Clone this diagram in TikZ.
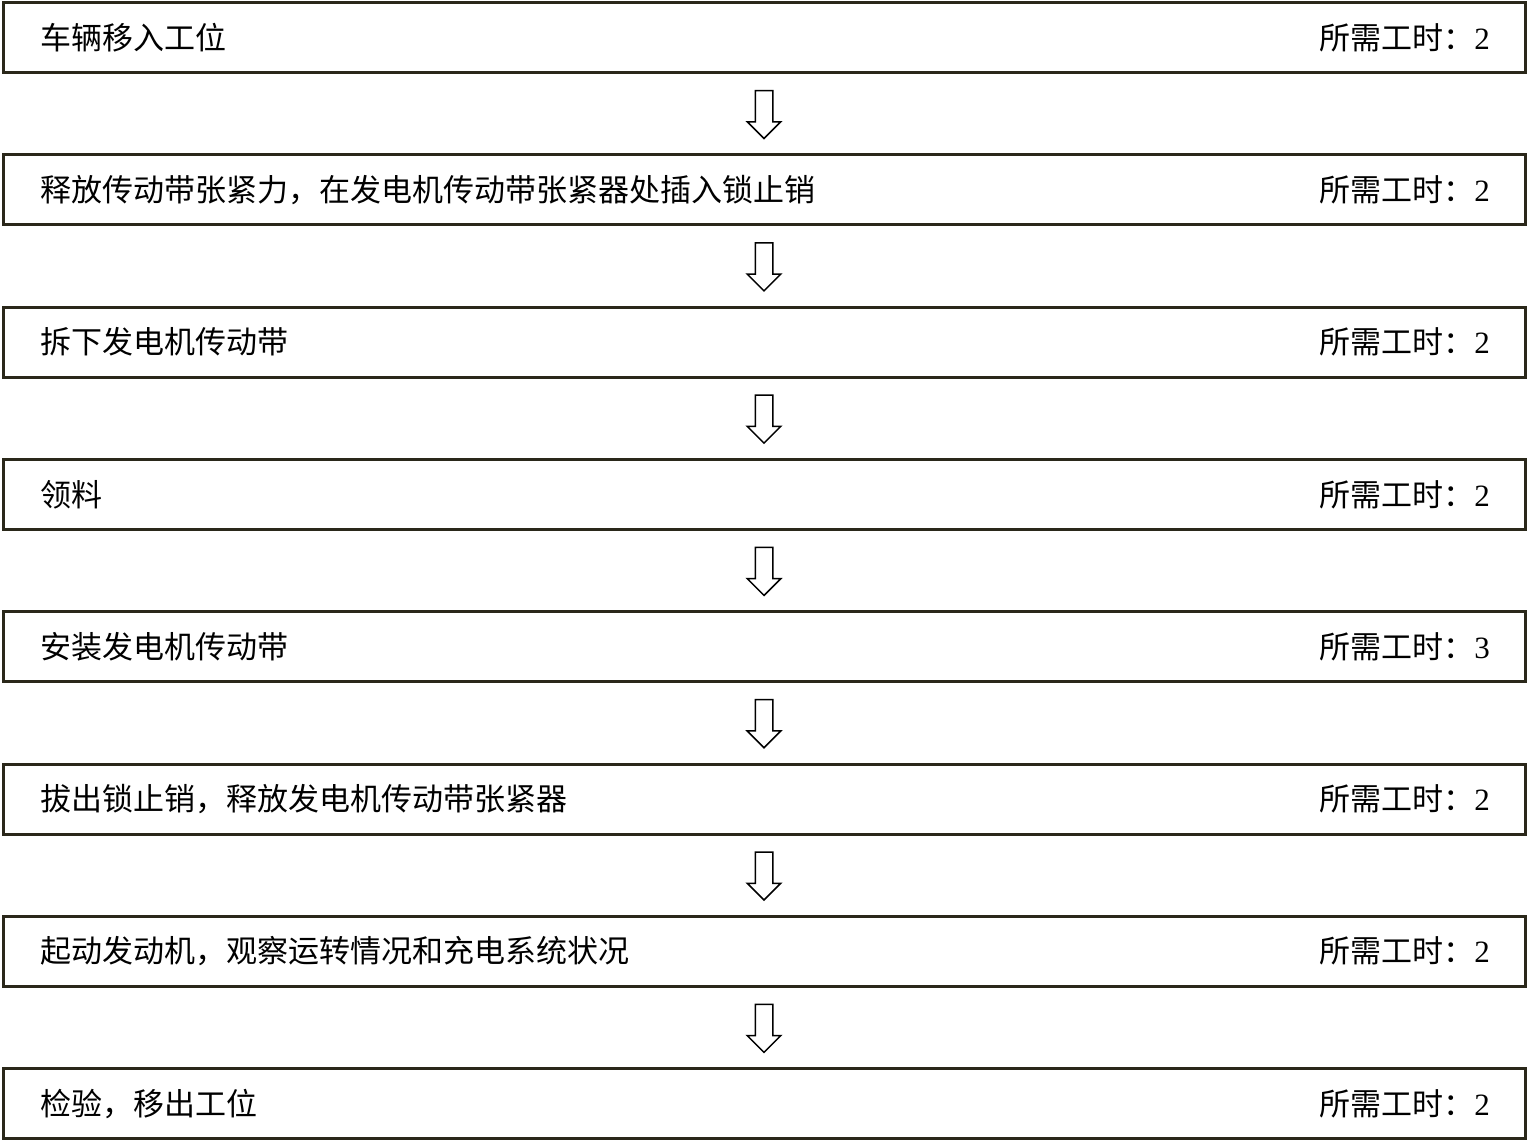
\documentclass[tikz,border=0pt]{standalone}
\usepackage{fontspec}
\setmainfont{Liberation Serif}
\newfontfamily\cjk{Noto Sans CJK SC}
\usepackage{xcolor}
\usetikzlibrary{shapes.arrows, calc}
\definecolor{boxline}{RGB}{42,40,26}
\tikzstyle{stepbox} = [rectangle, minimum width=1522pt, minimum height=70pt, draw=boxline, line width=3pt]
\tikzstyle{steptext} = [anchor=west, inner sep=0pt, font=\fontsize{31}{36}\selectfont\cjk]
\tikzstyle{hourtext} = [anchor=east, inner sep=0pt, font=\fontsize{31}{36}\selectfont]
\tikzstyle{downarrow} = [single arrow, rotate=-90, draw=black, line width=1.5pt, minimum height=48pt, minimum width=32pt, single arrow head extend=8pt, single arrow head indent=0pt, inner xsep=0pt, inner ysep=8pt]

\begin{document}
\begin{tikzpicture}[x=1pt, y=1pt]
    \useasboundingbox (0,0) rectangle (1528,-1143);
    \node (b1) [stepbox] at (764,-37.5) {};
    \node (b2) [stepbox] at (764,-189.8) {};
    \node (b3) [stepbox] at (764,-342.1) {};
    \node (b4) [stepbox] at (764,-494.4) {};
    \node (b5) [stepbox] at (764,-646.7) {};
    \node (b6) [stepbox] at (764,-799) {};
    \node (b7) [stepbox] at (764,-951.3) {};
    \node (b8) [stepbox] at (764,-1103.6) {};

    \node (t1) [steptext] at (40,-37.5) {车辆移入工位};
    \node (t2) [steptext] at (40,-189.8) {释放传动带张紧力，在发电机传动带张紧器处插入锁止销};
    \node (t3) [steptext] at (40,-342.1) {拆下发电机传动带};
    \node (t4) [steptext] at (40,-494.4) {领料};
    \node (t5) [steptext] at (40,-646.7) {安装发电机传动带};
    \node (t6) [steptext] at (40,-799) {拔出锁止销，释放发电机传动带张紧器};
    \node (t7) [steptext] at (40,-951.3) {起动发动机，观察运转情况和充电系统状况};
    \node (t8) [steptext] at (40,-1103.6) {检验，移出工位};

    \node (h1) [hourtext] at (1490,-37.5) {{\cjk 所需工时：}2};
    \node (h2) [hourtext] at (1490,-189.8) {{\cjk 所需工时：}2};
    \node (h3) [hourtext] at (1490,-342.1) {{\cjk 所需工时：}2};
    \node (h4) [hourtext] at (1490,-494.4) {{\cjk 所需工时：}2};
    \node (h5) [hourtext] at (1490,-646.7) {{\cjk 所需工时：}3};
    \node (h6) [hourtext] at (1490,-799) {{\cjk 所需工时：}2};
    \node (h7) [hourtext] at (1490,-951.3) {{\cjk 所需工时：}2};
    \node (h8) [hourtext] at (1490,-1103.6) {{\cjk 所需工时：}2};

    \node (a1) [downarrow] at ($(b1)!0.5!(b2)+(0,3.5)$) {};
    \node (a2) [downarrow] at ($(b2)!0.5!(b3)+(0,3.5)$) {};
    \node (a3) [downarrow] at ($(b3)!0.5!(b4)+(0,3.5)$) {};
    \node (a4) [downarrow] at ($(b4)!0.5!(b5)+(0,3.5)$) {};
    \node (a5) [downarrow] at ($(b5)!0.5!(b6)+(0,3.5)$) {};
    \node (a6) [downarrow] at ($(b6)!0.5!(b7)+(0,3.5)$) {};
    \node (a7) [downarrow] at ($(b7)!0.5!(b8)+(0,3.5)$) {};
\end{tikzpicture}
\end{document}
